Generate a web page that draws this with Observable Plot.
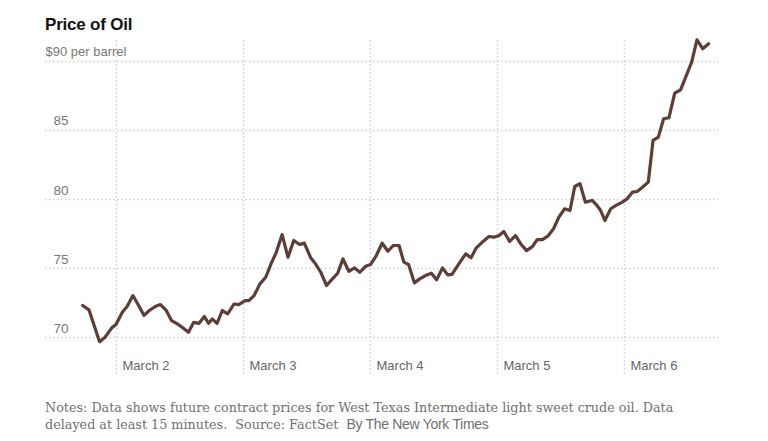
<!DOCTYPE html>
<html><head><meta charset="utf-8">
<script src="https://cdn.jsdelivr.net/npm/d3@7"></script>
<script src="https://cdn.jsdelivr.net/npm/@observablehq/plot@0.6"></script>
<style>
body{margin:0;background:#fff;width:768px;height:441px;overflow:hidden;position:relative;font-family:"Liberation Sans",Arial,sans-serif;}
#title{position:absolute;left:45px;top:15px;font-weight:bold;font-size:17px;color:#121212;letter-spacing:-0.2px;line-height:20px;white-space:nowrap}
#chart{position:absolute;left:0;top:34px}
#caption{position:absolute;left:45px;top:399px;font-family:"DejaVu Serif",serif;font-size:12.75px;line-height:17px;color:#707070;white-space:nowrap}
#caption .by{font-family:"Liberation Sans",sans-serif;font-size:14px;letter-spacing:-0.3px}
</style></head><body>
<div id="title">Price of Oil</div>
<div id="chart"></div>
<div id="caption">Notes: Data shows future contract prices for West Texas Intermediate light sweet crude oil. Data<br>delayed at least 15 minutes.&nbsp; Source: FactSet&nbsp; <span class="by">By The New York Times</span></div>
<script>
// hours after midnight, March 2
const hours = [-6.4,-5.2,-3.2,-2.2,-0.9,-0.1,1.1,2.0,3.1,4.1,5.2,6.2,7.4,8.3,9.4,10.4,11.5,12.4,13.6,14.6,15.6,16.6,17.4,18.1,19.0,20.0,21.0,22.2,23.1,24.3,25.0,26.0,27.1,28.2,29.2,30.2,31.3,32.4,33.5,34.6,35.5,36.7,37.6,38.6,39.7,40.8,41.8,42.8,43.9,45.0,46.0,47.1,48.0,49.1,50.2,51.3,52.3,53.4,54.3,55.2,56.3,57.3,58.4,59.5,60.5,61.6,62.6,63.4,64.7,66.0,67.0,68.0,69.1,70.4,71.3,72.3,73.2,74.3,75.4,76.4,77.5,78.6,79.5,80.5,81.5,82.6,83.6,84.7,85.7,86.6,87.6,88.6,89.9,90.8,91.5,92.3,93.4,94.4,95.6,96.5,97.5,98.4,99.4,100.5,101.4,102.4,103.4,104.4,105.5,106.6,107.7,108.7,109.7,110.8,111.9];
const prices = [72.32,72.0,69.7,70.0,70.7,70.94,71.83,72.25,73.04,72.37,71.6,71.96,72.27,72.39,71.96,71.23,70.99,70.75,70.38,71.1,71.03,71.52,71.03,71.35,71.03,71.96,71.71,72.43,72.39,72.68,72.68,73.04,73.89,74.37,75.34,76.18,77.46,75.82,77.03,76.74,76.84,75.78,75.34,74.73,73.77,74.25,74.66,75.7,74.8,75.04,74.73,75.17,75.29,75.94,76.83,76.25,76.67,76.67,75.46,75.29,73.96,74.25,74.49,74.66,74.18,75.04,74.54,74.57,75.34,76.06,75.78,76.5,76.9,77.32,77.27,77.39,77.68,76.96,77.39,76.78,76.3,76.59,77.1,77.1,77.34,77.88,78.72,79.33,79.2,80.94,81.14,79.81,79.93,79.57,79.2,78.48,79.33,79.57,79.81,80.05,80.53,80.58,80.89,81.26,84.28,84.52,85.85,85.92,87.71,87.95,88.99,89.95,91.57,90.92,91.28];
const yTicks = [70, 75, 80, 85];
const topTick = [90];
const gridTicks = [70, 75, 80, 85, 90];

const HOUR = 3600e3;
const base = Date.UTC(2026, 2, 2);
const data = hours.map((h, i) => ({time: new Date(base + h * HOUR), price: prices[i]}));
const days = d3.utcDay.range(new Date(base), new Date(base + 4.5 * 24 * HOUR));
const dotted = {stroke: "#d0d0d0", strokeOpacity: 1, strokeWidth: 1.5, strokeDasharray: "1.5,2.5"};

const chart = Plot.plot({
  width: 768, height: 350,
  marginLeft: 45, marginRight: 50, marginTop: 6, marginBottom: 9,
  x: {type: "utc", domain: [new Date(base - 13.42 * HOUR), new Date(base + 113.77 * HOUR)]},
  y: {domain: [67.25, 91.52]},
  style: {fontFamily: "Liberation Sans, Arial, sans-serif", fontSize: "13px", color: "#666", background: "#fff", overflow: "visible"},
  marks: [
    Plot.gridY(gridTicks, dotted),
    Plot.gridX(days, dotted),
    Plot.axisY(yTicks, {anchor: "left", tickSize: 0, tickPadding: 0, textAnchor: "start", dx: 8, lineAnchor: "bottom", dy: -5, label: null, fill: "#777", fontSize: 13.5}),
    Plot.axisY(topTick, {anchor: "left", tickSize: 0, tickPadding: 0, textAnchor: "start", dx: 0, lineAnchor: "bottom", dy: -5, label: null, fill: "#777", tickFormat: d => `$${d} per barrel`}),
    Plot.axisX(days, {anchor: "bottom", tickSize: 0, tickPadding: 0, textAnchor: "start", dx: 6, lineAnchor: "bottom", dy: -6, label: null, fill: "#666", tickFormat: d3.utcFormat("March %-d")}),
    Plot.line(data, {x: "time", y: "price", stroke: "#5e3d36", strokeWidth: 3.2, strokeLinejoin: "round"})
  ]
});
document.getElementById("chart").appendChild(chart);
</script>
</body></html>
